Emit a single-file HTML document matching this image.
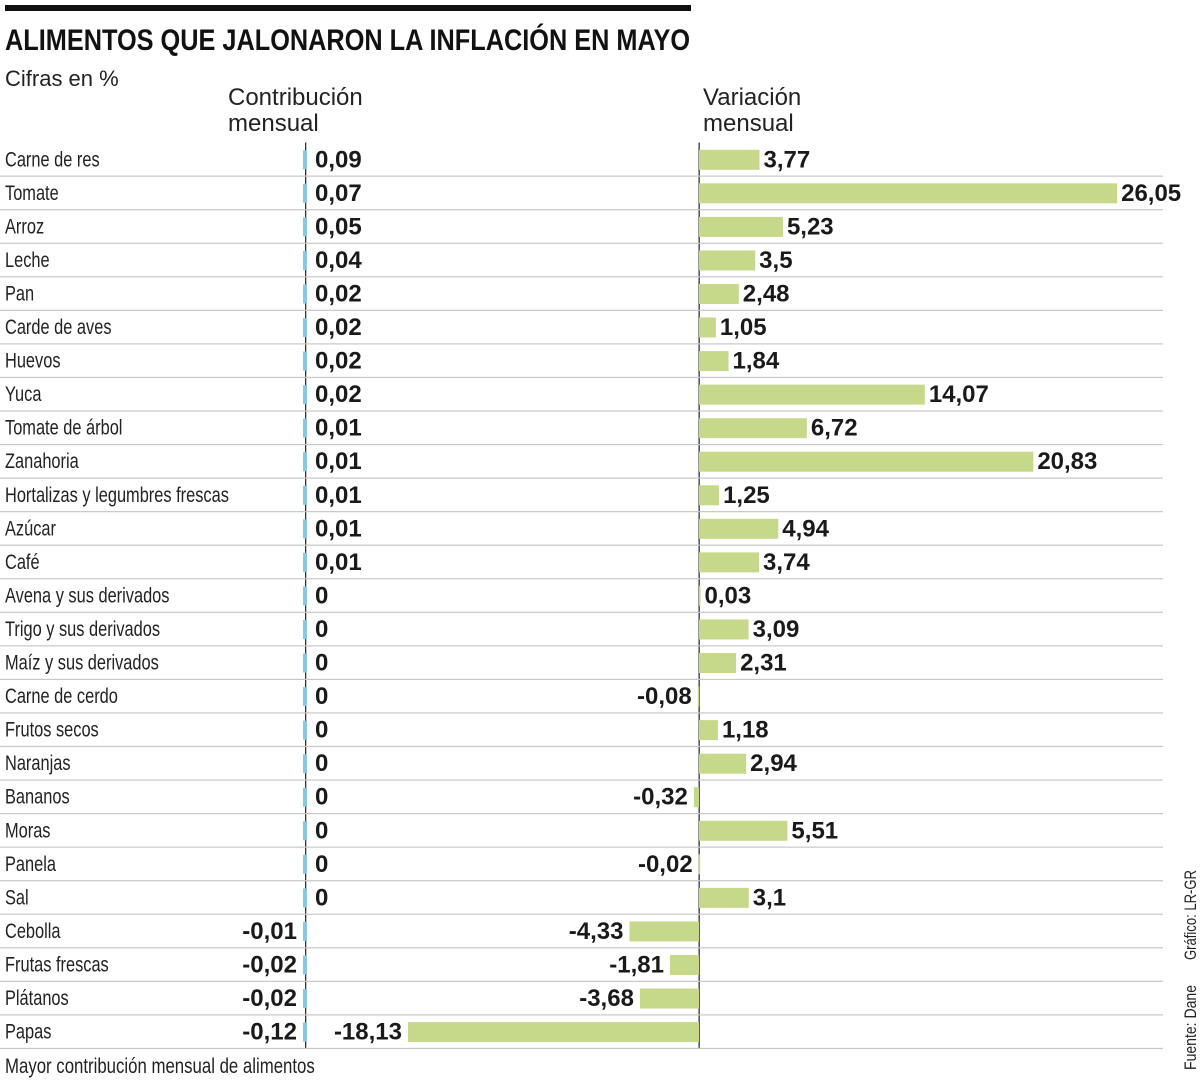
<!DOCTYPE html>
<html><head><meta charset="utf-8">
<style>
html,body{margin:0;padding:0;background:#fff;}
svg{display:block;}
.lbl{font-family:"Liberation Sans",sans-serif;font-size:21px;fill:#222;}
.val{font-family:"Liberation Sans",sans-serif;font-weight:bold;font-size:24px;fill:#1a1a1a;}
</style></head>
<body>
<svg id="chart" width="1200" height="1083" viewBox="0 0 1200 1083">
<rect x="5" y="5" width="686" height="6" fill="#111"/>
<text x="5" y="50" textLength="685" lengthAdjust="spacingAndGlyphs" style="font-family:'Liberation Sans',sans-serif;font-weight:bold;font-size:30px;fill:#111">ALIMENTOS QUE JALONARON LA INFLACIÓN EN MAYO</text>
<text x="5" y="86" style="font-family:'Liberation Sans',sans-serif;font-size:22px;fill:#222">Cifras en %</text>
<text x="228" y="105" style="font-family:'Liberation Sans',sans-serif;font-size:24px;fill:#222"><tspan x="228">Contribución</tspan><tspan x="228" dy="26">mensual</tspan></text>
<text x="703" y="105" style="font-family:'Liberation Sans',sans-serif;font-size:24px;fill:#222"><tspan x="703">Variación</tspan><tspan x="703" dy="26">mensual</tspan></text>
<g id="rows"></g>
<text transform="translate(5,1073) scale(0.8,1)" class="lbl">Mayor contribución mensual de alimentos</text>
<text transform="translate(1196,960) rotate(-90)" textLength="90" lengthAdjust="spacingAndGlyphs" style="font-family:'Liberation Sans',sans-serif;font-size:17px;fill:#222">Gráfico: LR-GR</text>
<text transform="translate(1196,1070) rotate(-90)" textLength="85" lengthAdjust="spacingAndGlyphs" style="font-family:'Liberation Sans',sans-serif;font-size:17px;fill:#222">Fuente: Dane</text>
</svg>
<script>
const categories=["Carne de res","Tomate","Arroz","Leche","Pan","Carde de aves","Huevos","Yuca","Tomate de árbol","Zanahoria","Hortalizas y legumbres frescas","Azúcar","Café","Avena y sus derivados","Trigo y sus derivados","Maíz y sus derivados","Carne de cerdo","Frutos secos","Naranjas","Bananos","Moras","Panela","Sal","Cebolla","Frutas frescas","Plátanos","Papas"];
const contribution=[0.09,0.07,0.05,0.04,0.02,0.02,0.02,0.02,0.01,0.01,0.01,0.01,0.01,0,0,0,0,0,0,0,0,0,0,-0.01,-0.02,-0.02,-0.12];
const variation=[3.77,26.05,5.23,3.5,2.48,1.05,1.84,14.07,6.72,20.83,1.25,4.94,3.74,0.03,3.09,2.31,-0.08,1.18,2.94,-0.32,5.51,-0.02,3.1,-4.33,-1.81,-3.68,-18.13];
const NS="http://www.w3.org/2000/svg";
const g=document.getElementById('rows');
const top0=142.5, rowH=33.55;
const x0L=305, x0R=699, kR=16.05;
function xR(v){return x0R+v*kR;}
function rowY(i){return top0+i*rowH;}
function fmt(v){return String(v).replace('.',',');}
function mk(tag,attrs){const e=document.createElementNS(NS,tag);for(const k in attrs)e.setAttribute(k,attrs[k]);g.appendChild(e);return e;}
const ax1=mk('rect',{x:x0L,y:top0,width:1.3,height:rowH*categories.length,fill:'#333'});


const ax2=mk('rect',{x:x0R-0.5,y:top0,width:1.3,height:rowH*categories.length,fill:'#333'});


categories.forEach((c,i)=>{
  const y=rowY(i), cy=y+rowH/2;
  const line=mk('rect',{x:0,y:y+rowH-0.5,width:1163,height:1.2,fill:'#c8c8c8'});
  
  
  const t=mk('text',{transform:'translate(5,'+(cy+7)+') scale(0.78,1)',class:'lbl'});t.textContent=c;
  
  
  const cv=contribution[i];
  const cw=Math.max(4,Math.abs(cv)*20);
  const cb=mk('rect',{x:cv<0?x0L-cw+2:x0L-2,y:cy-9,width:cw,height:19,fill:'#86c9e0'});
  
  
  const ct=mk('text',{x:cv<0?x0L-8:x0L+10,y:cy+8,class:'val','text-anchor':cv<0?'end':'start'});ct.textContent=fmt(cv);
  
  
  const v=variation[i];
  const bx=Math.min(xR(0),xR(v)), bw=Math.max(1.5,Math.abs(xR(v)-xR(0)));
  const vb=mk('rect',{x:bx,y:cy-9.5,width:bw,height:20,fill:'#c6d98a'});
  
  
  const vt=mk('text',{x:v<0?bx-6:bx+bw+4,y:cy+8,class:'val','text-anchor':v<0?'end':'start'});vt.textContent=fmt(v);
  
  
});
</script>
</body></html>
